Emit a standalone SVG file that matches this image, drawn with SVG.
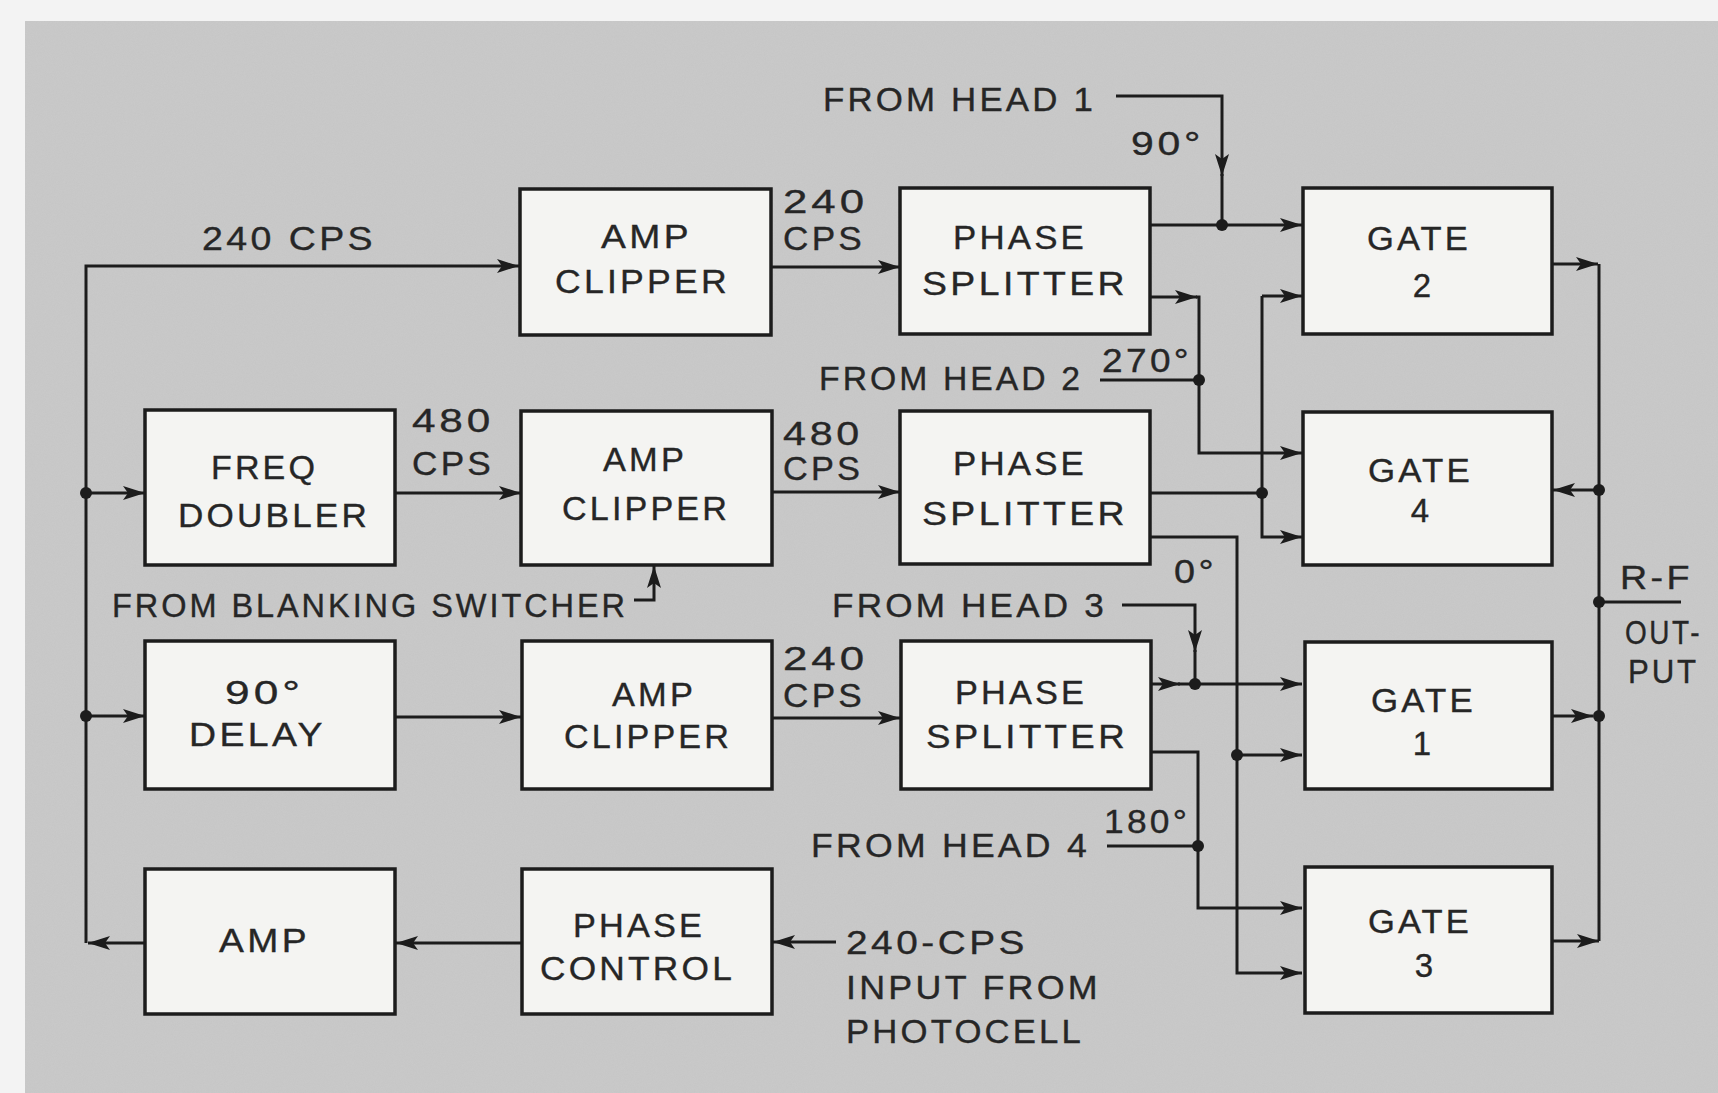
<svg xmlns="http://www.w3.org/2000/svg" width="1718" height="1093" viewBox="0 0 1718 1093">
<style>
.box{fill:#f4f4f2;stroke:#1c1c1c;stroke-width:3.5}
.ln{fill:none;stroke:#1c1c1c;stroke-width:3}
.ar{fill:none;stroke:#1c1c1c;stroke-width:3;marker-end:url(#ah)}
.dot{fill:#1c1c1c}
text{font-family:"Liberation Sans",Arial,sans-serif;font-size:33px;letter-spacing:3px;fill:#262626;stroke:#262626;stroke-width:0.35}
.c{text-anchor:middle;letter-spacing:0}
</style>
<defs>
<marker id="ah" markerUnits="userSpaceOnUse" viewBox="0 0 22 14" refX="22" refY="7" markerWidth="22" markerHeight="14" orient="auto">
<path d="M0,0 L22,7 L0,14 L5,7 Z" fill="#1c1c1c"/>
</marker>
<filter id="grain" x="0" y="0" width="100%" height="100%">
<feTurbulence type="fractalNoise" baseFrequency="0.9" numOctaves="2" seed="3" result="n"/>
<feColorMatrix type="matrix" values="0 0 0 0 0.5  0 0 0 0 0.5  0 0 0 0 0.5  0 0 0 0.5 -0.1" in="n" result="g"/>
<feComposite in="g" in2="SourceGraphic" operator="in"/>
</filter>
</defs>
<rect x="0" y="0" width="1718" height="1093" fill="#f3f3f3"/>
<rect x="25" y="21" width="1693" height="1072" fill="#c9c9c9"/>
<rect x="25" y="21" width="1693" height="1072" fill="#c9c9c9" filter="url(#grain)" opacity="0.6"/>

<g id="connectors">
<path class="ar" d="M86,943 L86,266 L519,266"/>
<path class="ar" d="M145,943 L88,943"/>
<path class="ar" d="M522,943 L396,943"/>
<path class="ar" d="M836,942 L773,942"/>
<path class="ar" d="M86,493 L145,493"/>
<path class="ar" d="M86,716 L145,716"/>
<path class="ar" d="M395,493 L521,493"/>
<path class="ar" d="M395,717 L521,717"/>
<path class="ar" d="M771,267 L900,267"/>
<path class="ar" d="M771,492 L900,492"/>
<path class="ar" d="M771,718 L900,718"/>
<path class="ar" d="M634,600 L654,600 L654,566"/>
<path class="ar" d="M1150,225 L1302,225"/>
<path class="ar" d="M1116,96 L1222,96 L1222,176"/>
<path class="ln" d="M1222,174 L1222,225"/>
<path class="ar" d="M1150,297 L1197,297"/>
<path class="ar" d="M1196,297 L1199,297 L1199,453 L1302,453"/>
<path class="ln" d="M1100,380 L1199,380"/>
<path class="ln" d="M1150,493 L1262,493"/>
<path class="ar" d="M1262,296 L1302,296"/>
<path class="ar" d="M1262,296 L1262,537 L1302,537"/>
<path class="ar" d="M1150,537 L1237,537 L1237,973 L1302,973"/>
<path class="ar" d="M1237,755 L1302,755"/>
<path class="ar" d="M1122,605 L1195,605 L1195,652"/>
<path class="ln" d="M1195,650 L1195,684"/>
<path class="ar" d="M1150,684 L1180,684"/>
<path class="ar" d="M1178,684 L1302,684"/>
<path class="ar" d="M1150,752 L1198,752 L1198,908 L1302,908"/>
<path class="ln" d="M1107,846 L1198,846"/>
<path class="ar" d="M1552,264 L1598,264"/>
<path class="ln" d="M1599,264 L1599,941"/>
<path class="ar" d="M1552,941 L1599,941"/>
<path class="ar" d="M1552,716 L1593,716"/>
<path class="ar" d="M1599,490 L1553,490"/>
<path class="ln" d="M1599,602 L1681,602"/>
<circle class="dot" cx="86" cy="493" r="6"/>
<circle class="dot" cx="86" cy="716" r="6"/>
<circle class="dot" cx="1222" cy="225" r="6"/>
<circle class="dot" cx="1199" cy="380" r="6"/>
<circle class="dot" cx="1262" cy="493" r="6"/>
<circle class="dot" cx="1237" cy="755" r="6"/>
<circle class="dot" cx="1195" cy="684" r="6"/>
<circle class="dot" cx="1198" cy="846" r="6"/>
<circle class="dot" cx="1599" cy="490" r="6"/>
<circle class="dot" cx="1599" cy="602" r="6"/>
<circle class="dot" cx="1599" cy="716" r="6"/>
</g>

<g id="labels">
<text x="202" y="250" textLength="174" lengthAdjust="spacingAndGlyphs">240 CPS</text>
<text x="783" y="213" textLength="85" lengthAdjust="spacingAndGlyphs">240</text>
<text x="783" y="250" textLength="82" lengthAdjust="spacingAndGlyphs">CPS</text>
<text x="823" y="111" textLength="273" lengthAdjust="spacingAndGlyphs">FROM HEAD 1</text>
<text x="1131" y="155" textLength="73" lengthAdjust="spacingAndGlyphs">90°</text>
<text x="412" y="432" textLength="82" lengthAdjust="spacingAndGlyphs">480</text>
<text x="412" y="475" textLength="82" lengthAdjust="spacingAndGlyphs">CPS</text>
<text x="783" y="445" textLength="80" lengthAdjust="spacingAndGlyphs">480</text>
<text x="783" y="480" textLength="80" lengthAdjust="spacingAndGlyphs">CPS</text>
<text x="819" y="390" textLength="264" lengthAdjust="spacingAndGlyphs">FROM HEAD 2</text>
<text x="1102" y="372" textLength="90" lengthAdjust="spacingAndGlyphs">270°</text>
<text x="112" y="617" textLength="516" lengthAdjust="spacingAndGlyphs">FROM BLANKING SWITCHER</text>
<text x="783" y="670" textLength="85" lengthAdjust="spacingAndGlyphs">240</text>
<text x="783" y="707" textLength="82" lengthAdjust="spacingAndGlyphs">CPS</text>
<text x="1174" y="583" textLength="43" lengthAdjust="spacingAndGlyphs">0°</text>
<text x="832" y="617" textLength="275" lengthAdjust="spacingAndGlyphs">FROM HEAD 3</text>
<text x="811" y="857" textLength="279" lengthAdjust="spacingAndGlyphs">FROM HEAD 4</text>
<text x="1104" y="833" textLength="86" lengthAdjust="spacingAndGlyphs">180°</text>
<text x="1620" y="589" textLength="73" lengthAdjust="spacingAndGlyphs">R-F</text>
<text x="1625" y="644" textLength="77" lengthAdjust="spacingAndGlyphs">OUT-</text>
<text x="1628" y="683" textLength="71" lengthAdjust="spacingAndGlyphs">PUT</text>
<text x="846" y="954" textLength="182" lengthAdjust="spacingAndGlyphs">240-CPS</text>
<text x="846" y="999" textLength="255" lengthAdjust="spacingAndGlyphs">INPUT FROM</text>
<text x="846" y="1043" textLength="238" lengthAdjust="spacingAndGlyphs">PHOTOCELL</text>
</g>

<g id="amp-clipper-1">
<rect class="box" x="520" y="189" width="251" height="146"/>
<text x="601" y="248" textLength="91" lengthAdjust="spacingAndGlyphs">AMP</text>
<text x="555" y="293" textLength="175" lengthAdjust="spacingAndGlyphs">CLIPPER</text>
</g>
<g id="phase-splitter-1">
<rect class="box" x="900" y="188" width="250" height="146"/>
<text x="953" y="249" textLength="134" lengthAdjust="spacingAndGlyphs">PHASE</text>
<text x="922" y="295" textLength="206" lengthAdjust="spacingAndGlyphs">SPLITTER</text>
</g>
<g id="gate-2">
<rect class="box" x="1303" y="188" width="249" height="146"/>
<text x="1367" y="250" textLength="104" lengthAdjust="spacingAndGlyphs">GATE</text>
<text class="c" x="1422" y="297">2</text>
</g>
<g id="freq-doubler">
<rect class="box" x="145" y="410" width="250" height="155"/>
<text x="211" y="479" textLength="107" lengthAdjust="spacingAndGlyphs">FREQ</text>
<text x="178" y="527" textLength="192" lengthAdjust="spacingAndGlyphs">DOUBLER</text>
</g>
<g id="amp-clipper-2">
<rect class="box" x="521" y="411" width="251" height="154"/>
<text x="603" y="471" textLength="84" lengthAdjust="spacingAndGlyphs">AMP</text>
<text x="562" y="520" textLength="168" lengthAdjust="spacingAndGlyphs">CLIPPER</text>
</g>
<g id="phase-splitter-2">
<rect class="box" x="900" y="411" width="250" height="153"/>
<text x="953" y="475" textLength="134" lengthAdjust="spacingAndGlyphs">PHASE</text>
<text x="922" y="525" textLength="206" lengthAdjust="spacingAndGlyphs">SPLITTER</text>
</g>
<g id="gate-4">
<rect class="box" x="1303" y="412" width="249" height="153"/>
<text x="1368" y="482" textLength="105" lengthAdjust="spacingAndGlyphs">GATE</text>
<text class="c" x="1420" y="522">4</text>
</g>
<g id="delay">
<rect class="box" x="145" y="641" width="250" height="148"/>
<text x="225" y="704" textLength="79" lengthAdjust="spacingAndGlyphs">90°</text>
<text x="189" y="746" textLength="137" lengthAdjust="spacingAndGlyphs">DELAY</text>
</g>
<g id="amp-clipper-3">
<rect class="box" x="522" y="641" width="250" height="148"/>
<text x="612" y="706" textLength="84" lengthAdjust="spacingAndGlyphs">AMP</text>
<text x="564" y="748" textLength="168" lengthAdjust="spacingAndGlyphs">CLIPPER</text>
</g>
<g id="phase-splitter-3">
<rect class="box" x="901" y="641" width="250" height="148"/>
<text x="955" y="704" textLength="132" lengthAdjust="spacingAndGlyphs">PHASE</text>
<text x="926" y="748" textLength="202" lengthAdjust="spacingAndGlyphs">SPLITTER</text>
</g>
<g id="gate-1">
<rect class="box" x="1305" y="642" width="247" height="147"/>
<text x="1371" y="712" textLength="105" lengthAdjust="spacingAndGlyphs">GATE</text>
<text class="c" x="1422" y="755">1</text>
</g>
<g id="amp">
<rect class="box" x="145" y="869" width="250" height="145"/>
<text x="219" y="952" textLength="91" lengthAdjust="spacingAndGlyphs">AMP</text>
</g>
<g id="phase-control">
<rect class="box" x="522" y="869" width="250" height="145"/>
<text x="573" y="937" textLength="132" lengthAdjust="spacingAndGlyphs">PHASE</text>
<text x="540" y="980" textLength="195" lengthAdjust="spacingAndGlyphs">CONTROL</text>
</g>
<g id="gate-3">
<rect class="box" x="1305" y="867" width="247" height="146"/>
<text x="1368" y="933" textLength="104" lengthAdjust="spacingAndGlyphs">GATE</text>
<text class="c" x="1424" y="977">3</text>
</g>
</svg>
